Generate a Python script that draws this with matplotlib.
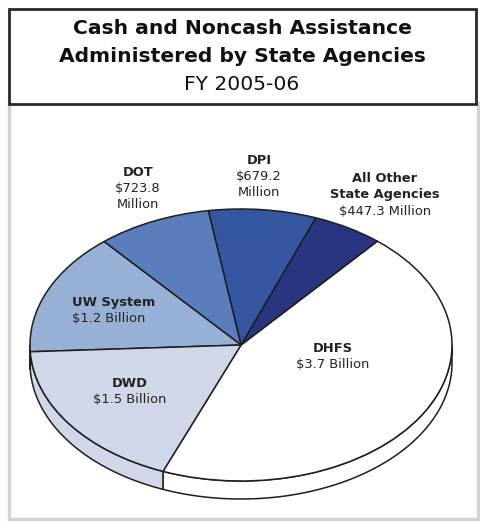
import numpy as np
import matplotlib
matplotlib.use("Agg")
import matplotlib.pyplot as plt
from matplotlib.patches import Rectangle, Polygon

# ---- data ----
agencies = ["DHFS", "All Other\nState Agencies", "DPI", "DOT", "UW System", "DWD"]
values_millions = [3700.0, 447.3, 679.2, 723.8, 1200.0, 1500.0]
amount_labels = ["$3.7 Billion", "$447.3 Million", "$679.2\nMillion", "$723.8\nMillion",
                 "$1.2 Billion", "$1.5 Billion"]
colors = ["#ffffff", "#283682", "#3557a2", "#5a7ebc", "#97b0d6", "#d0d7e9"]
title_lines = ["Cash and Noncash Assistance", "Administered by State Agencies", "FY 2005-06"]

FONT = "DejaVu Sans"
W, H = 480, 522
fig = plt.figure(figsize=(W / 100, H / 100), dpi=100)
fig.patch.set_facecolor("white")

# frame axes (pixel coords, behind everything)
fr = fig.add_axes([0, 0, 1, 1], zorder=1)
fr.set_xlim(0, W); fr.set_ylim(H, 0); fr.axis("off")
fr.add_patch(Rectangle((9, 103), 469, 416, facecolor="white", edgecolor="#d2d2d2", lw=2.5))
fr.add_patch(Rectangle((9, 9), 467, 95, facecolor="white", edgecolor="#2a2a2a", lw=2))
fr.text(242, 28, title_lines[0], ha="center", va="center", fontsize=14.6,
        fontweight="bold", family=FONT, color="#111111")
fr.text(242, 57, title_lines[1], ha="center", va="center", fontsize=14.6,
        fontweight="bold", family=FONT, color="#111111")
fr.text(242, 85, title_lines[2], ha="center", va="center", fontsize=14.6,
        family=FONT, color="#111111")

# pie axes: unit circle mapped to ellipse
cx, cy = 241, 345          # pixel center (from top)
rx, ry = 211, 136          # semi axes in px
depth = 18 / ry            # side depth in data units
ax = fig.add_axes([0, 0, 1, 1], zorder=2)
ax.axis("off")
ax.patch.set_alpha(0)

start = 248.3
wedges, _ = ax.pie(values_millions, colors=colors, startangle=start, counterclock=True,
                   radius=1.0, center=(0, 0),
                   wedgeprops=dict(edgecolor="#1e1e1e", linewidth=1.1))
for w in wedges:
    w.set_zorder(3)

# side (extrusion) for the front part
vals = np.array(values_millions)
angles = np.cumsum(np.concatenate([[0], vals / vals.sum() * 360.0])) + start
for i in range(len(vals)):
    a0, a1 = angles[i], angles[i + 1]
    for shift in (-360, 0, 360):
        lo = max(a0 + shift, 180)
        hi = min(a1 + shift, 360)
        if hi > lo:
            t = np.radians(np.linspace(lo, hi, 100))
            top = np.column_stack([np.cos(t), np.sin(t)])
            bot = np.column_stack([np.cos(t), np.sin(t) - depth])[::-1]
            ax.add_patch(Polygon(np.vstack([top, bot]), closed=True, facecolor=colors[i],
                                 edgecolor="#1e1e1e", lw=1.1, zorder=2))

ax.set_aspect("auto")
ax.set_xlim(-cx / rx, (W - cx) / rx)
ax.set_ylim(-(H - cy) / ry, cy / ry)

# label axes (pixel coords, on top)
lb = fig.add_axes([0, 0, 1, 1], zorder=3)
lb.set_xlim(0, W); lb.set_ylim(H, 0); lb.axis("off")
lb.patch.set_alpha(0)

LINE = 16.5
lab = dict(family=FONT, color="#222222", fontsize=9.4, linespacing=1.3)

def two(x, y, name, amt, ha="center"):
    top = y - LINE / 2
    lb.text(x, top, name, ha=ha, va="top", fontweight="bold", **lab)
    nlines = name.count("\n") + 1
    lb.text(x, top + LINE * nlines, amt, ha=ha, va="top", **lab)

two(333, 350, agencies[0], amount_labels[0])
two(385, 180, agencies[1], amount_labels[1])
two(259, 162, agencies[2], amount_labels[2])
two(138, 174, agencies[3], amount_labels[3])
two(72, 304, agencies[4], amount_labels[4], ha="left")
two(130, 385, agencies[5], amount_labels[5])

fig.savefig("out.png", dpi=100)
